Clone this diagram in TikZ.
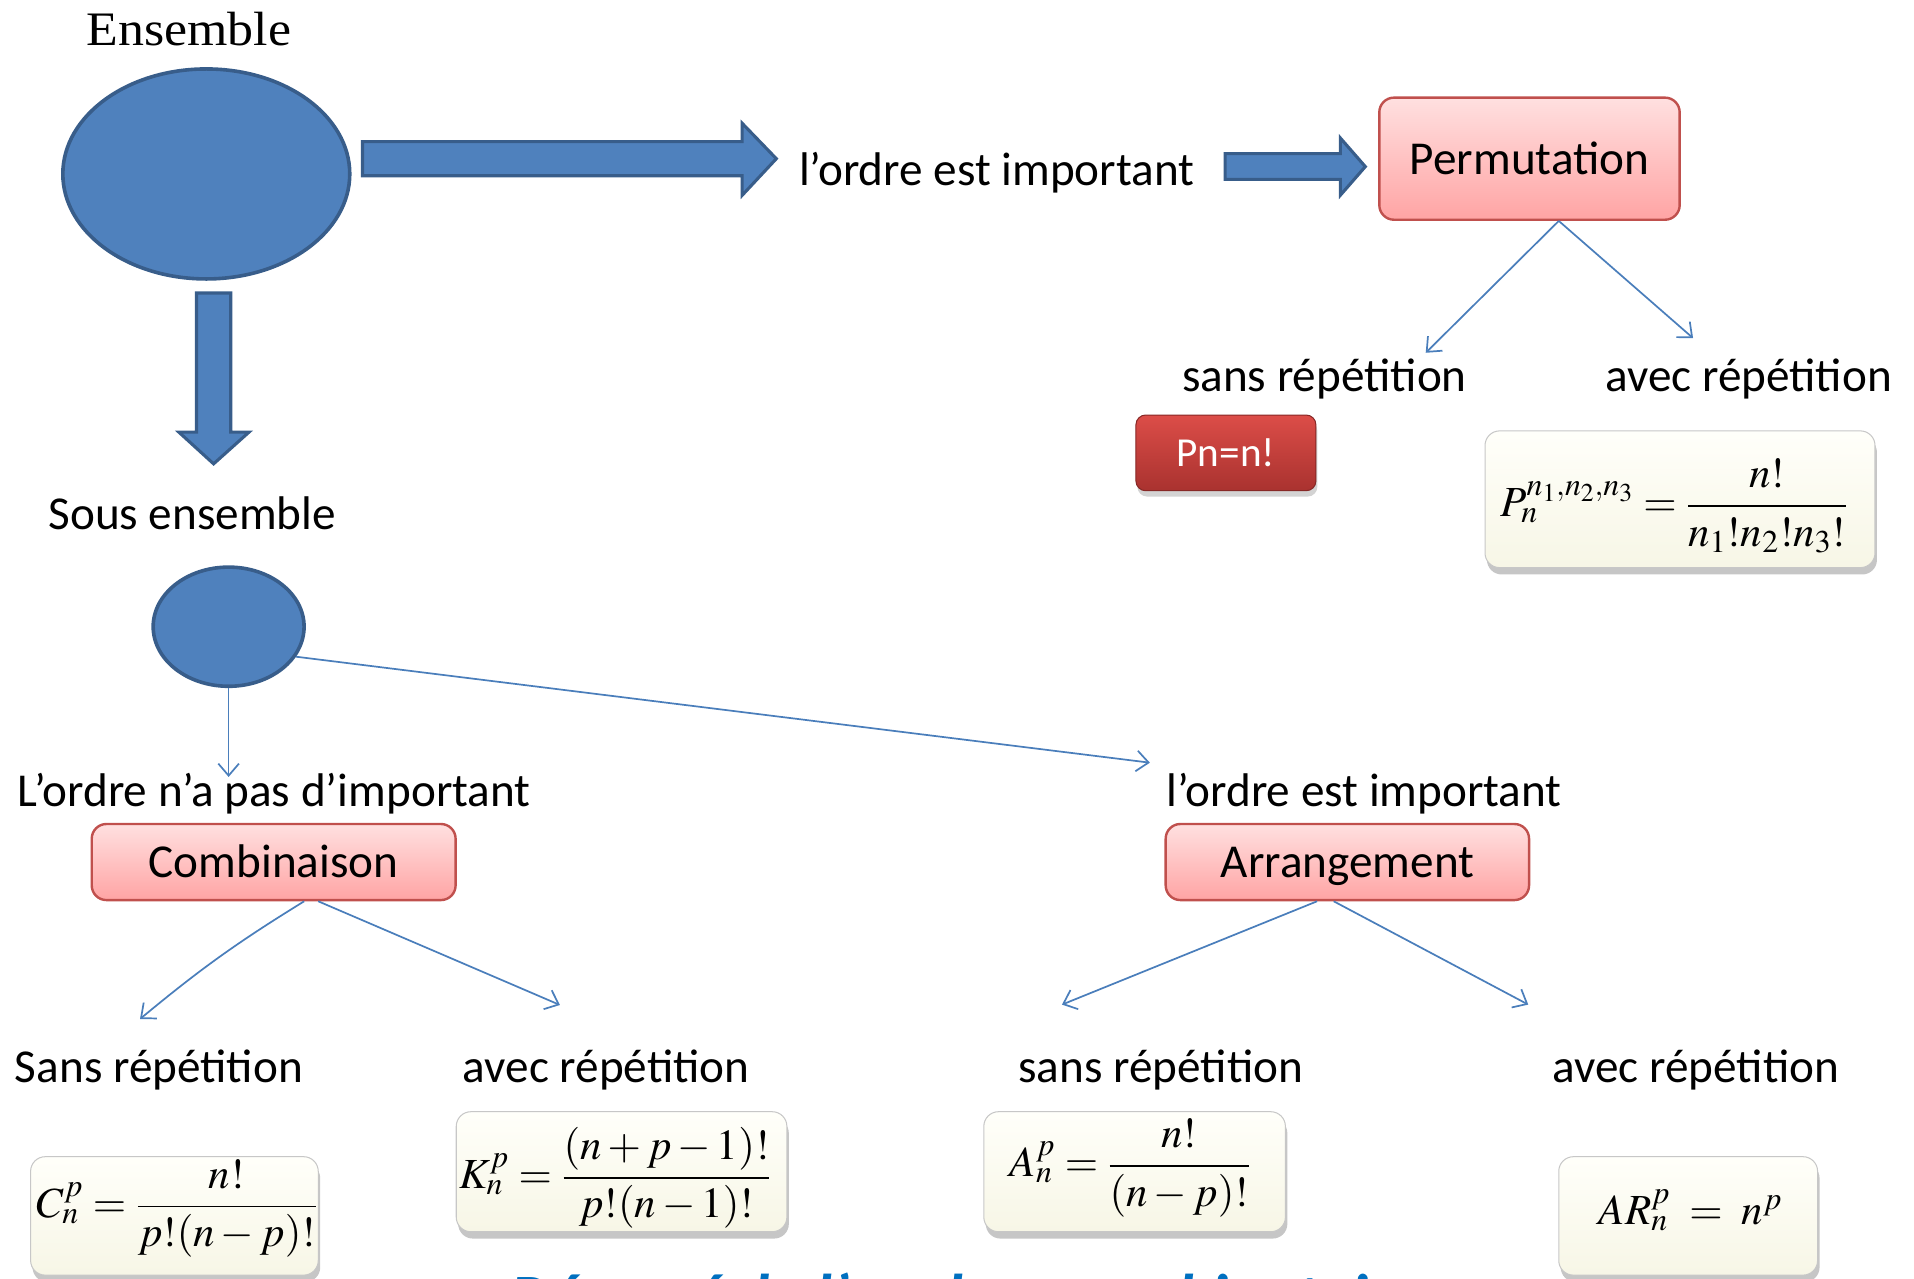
\documentclass[tikz,border=0pt]{standalone}
\usepackage{mathptmx}
\usepackage[no-math]{fontspec}
\setmainfont{Carlito}
\newfontfamily\ensfont{Liberation Serif}
\usetikzlibrary{shapes.geometric,arrows.meta,shadows,calc}
\definecolor{blockfill}{HTML}{4F81BD}
\definecolor{blockline}{HTML}{385D8A}
\definecolor{linkblue}{HTML}{4A7EBB}
\definecolor{pinkline}{HTML}{C0504D}
\definecolor{pinktop}{HTML}{FFE0E0}
\definecolor{pinkbot}{HTML}{FFA4A4}
\definecolor{redtop}{HTML}{DC4D48}
\definecolor{redbot}{HTML}{A9322F}
\definecolor{creamtop}{HTML}{FFFFFA}
\definecolor{creambot}{HTML}{F7F6E6}
\definecolor{titleblue}{HTML}{0070C0}
\begin{document}
\begin{tikzpicture}[x=0.025cm,y=-0.025cm,
  lbl/.style={font=\fontsize{27.5}{33}\selectfont,inner sep=0pt,anchor=base},
  blob/.style={ellipse,draw=blockline,fill=blockfill,line width=2.1pt,inner sep=0pt},
  blockarrow/.style={draw=blockline,fill=blockfill,line width=1.8pt,line join=miter},
  link/.style={draw=linkblue,line width=1pt,-{Straight Barb[length=7pt,width=12pt,line width=1pt]}},
  pinkbox/.style={draw=pinkline,line width=1.4pt,rounded corners=0.3cm,top color=pinktop,bottom color=pinkbot,
     inner sep=0pt,font=\fontsize{27.5}{33}\selectfont,text height=0.75cm,text depth=0.1cm},
  redbox/.style={draw=redbot!80!black,line width=0.6pt,rounded corners=0.2cm,top color=redtop,bottom color=redbot,
     inner sep=0pt,text=white,font=\fontsize{24}{28}\selectfont,text height=0.6cm,text depth=0.025cm,
     drop shadow={shadow xshift=0.3mm,shadow yshift=-1.2mm,opacity=0.35}},
  formbox/.style={draw=black!22,line width=0.6pt,rounded corners=0.3cm,top color=creamtop,bottom color=creambot,
     inner sep=0pt,drop shadow={shadow xshift=0.4mm,shadow yshift=-1.4mm,opacity=0.45}},
  formula/.style={font=\fontsize{25}{30}\selectfont,inner sep=0pt}]
\useasboundingbox (0,0) rectangle (1568,1047);

% ---- top level set
\node[anchor=base,inner sep=0pt,font=\fontsize{28}{32}\ensfont] (enslbl) at (154.6,37) {\scalebox{1.08}[1]{Ensemble}};
\node[blob,minimum width=5.875cm,minimum height=4.3cm] (ens) at (169,142.5) {};

% block arrows
\draw[blockarrow] (297,116) -- (608,116) -- (608,101) -- (636,130) -- (608,160) -- (608,144) -- (297,144) -- cycle;
\node[lbl] (ord1) at (816.5,151.6) {l’ordre est important};
\draw[blockarrow] (1003.6,125.8) -- (1098,125.8) -- (1098,113) -- (1118.5,136.5) -- (1098,160) -- (1098,147) -- (1003.6,147) -- cycle;
\node[pinkbox,minimum width=6.15cm,minimum height=2.5cm] (perm) at (1253,130) {Permutation};

\coordinate (ps) at (1168,289);
\coordinate (pa) at (1387,277);
\draw[link] ($(perm.south)+(24,0)$) -- (ps);
\draw[link] ($(perm.south)+(24,0)$) -- (pa);
\node[lbl] (ps1) at (1085,321) {sans répétition};
\node[lbl] (pa1) at (1432.5,321) {avec répétition};
\node[redbox,minimum width=3.685cm,minimum height=1.55cm] (pn) at (1004.3,371) {Pn=n!};
\node[formbox,minimum width=7.985cm,minimum height=2.8cm] (pbox) at (1376.3,409) {};
\node[formula] (pform) at (1371.5,414.5) {$P_n^{n_1,n_2,n_3} = \displaystyle\frac{n!}{n_1!n_2!n_3!}$};

% vertical block arrow
\draw[blockarrow] (161,240) -- (189,240) -- (189,354) -- (204,354) -- (175,380) -- (146.5,354) -- (161,354) -- cycle;
\node[lbl] (souslbl) at (157.5,434) {Sous ensemble};
\node[blob,minimum width=3.09cm,minimum height=2.44cm] (sub) at (187.3,513.4) {};

\coordinate (sl) at (187.3,636.5);
\coordinate (sr) at (942,624.8);
\draw[link] (sub.south) -- (sl);
\draw[link] (sub.-24) -- (sr);

\node[lbl] (ord2) at (224.6,660.8) {L’ordre n’a pas d’important};
\node[lbl] (ord3) at (1117.5,661) {l’ordre est important};
\node[pinkbox,minimum width=7.45cm,minimum height=1.5575cm] (comb) at (224.2,706.2) {Combinaison};
\node[pinkbox,minimum width=7.44cm,minimum height=1.5575cm] (arr) at (1103.8,706.2) {Arrangement};

\coordinate (cs) at (114.7,834.8);
\coordinate (ca) at (458.7,823.3);
\coordinate (as) at (870,823);
\coordinate (aa) at (1252,823);
\draw[link] ($(comb.south)+(25,0)$) to[bend right=4] (cs);
\draw[link] ($(comb.south)+(36.5,0)$) -- (ca);
\draw[link] ($(arr.south)+(-24.8,0)$) -- (as);
\draw[link] ($(arr.south)+(-11.2,0)$) -- (aa);

\node[lbl] (cs1) at (130.2,887) {Sans répétition};
\node[lbl] (ca1) at (496.6,887) {avec répétition};
\node[lbl] (as1) at (951,887) {sans répétition};
\node[lbl] (aa1) at (1389.3,887) {avec répétition};

% formula boxes
\node[formbox,minimum width=5.89cm,minimum height=2.425cm] (cbox) at (142.9,996.1) {};
\node[formula] (cform) at (145.3,990) {$C_n^{p} = \displaystyle\frac{n!}{p!(n-p)!}$};
\node[formbox,minimum width=6.77cm,minimum height=2.4575cm] (kbox) at (509.2,959.9) {};
\node[formula] (kform) at (504,965) {$K_n^{p} = \displaystyle\frac{(n+p-1)!}{p!(n-1)!}$};
\node[formbox,minimum width=6.175cm,minimum height=2.4575cm] (abox) at (929.5,959.9) {};
\node[formula] (aform) at (926,957) {$A_n^{p} = \displaystyle\frac{n!}{(n-p)!}$};
\node[formbox,minimum width=5.3cm,minimum height=2.425cm] (arbox) at (1383,996.1) {};
\node[formula,anchor=base] (arform) at (1385,1003.5) {$AR_n^{p} \;=\; n^{p}$};

% cut-off title
\begin{scope}
\clip (0,0) rectangle (1568,1047);
\node[anchor=base west,inner sep=0pt,text=titleblue,font=\fontsize{37.7}{44}\selectfont\bfseries\itshape] (title) at (418,1081) {Résumé de l’analyse combinatoire};
\end{scope}
\end{tikzpicture}
\end{document}
